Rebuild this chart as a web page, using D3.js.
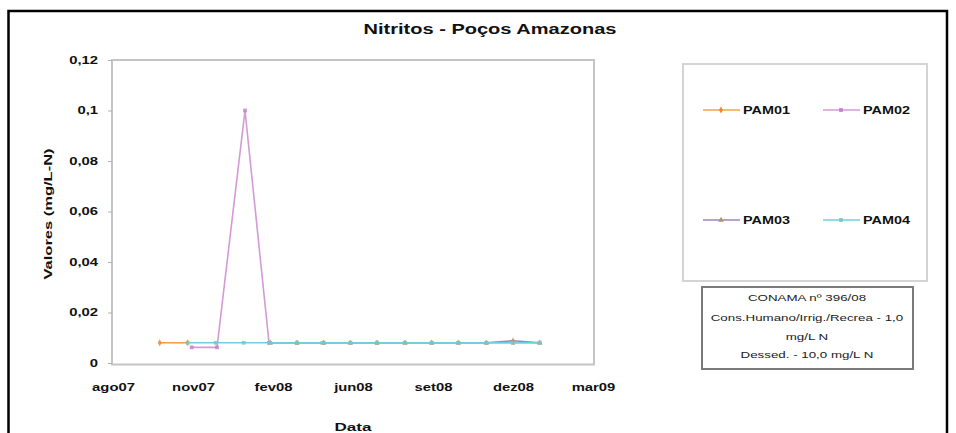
<!DOCTYPE html>
<html>
<head>
<meta charset="utf-8">
<script src="https://cdn.jsdelivr.net/npm/d3@7"></script>
<style>
  html, body { margin: 0; padding: 0; background: #fff; }
  svg { display: block; font-family: "Liberation Sans", Arial, sans-serif; }
</style>
</head>
<body>
<div id="chart"></div>
<script>
// ---- data (x in months since the "ago07" tick; 3 months per tick interval) ----
const chartTitle = "Nitritos - Poços Amazonas";
const xTickValues = [0, 3, 6, 9, 12, 15, 18];
const xTickLabels = ["ago07", "nov07", "fev08", "jun08", "set08", "dez08", "mar09"];
const yTickValues = [0, 0.02, 0.04, 0.06, 0.08, 0.1, 0.12];
const yTickLabels = ["0", "0,02", "0,04", "0,06", "0,08", "0,1", "0,12"];
const seriesNames = ["PAM01", "PAM02", "PAM03", "PAM04"];

const pam01X = [1.75, 2.8];
const pam01Y = [0.008, 0.008];

const pam02X = [2.95, 3.9, 4.95, 5.85, 6.9, 7.9, 8.9, 9.9, 10.95, 11.95, 12.95, 14, 15, 16];
const pam02Y = [0.0062, 0.0062, 0.1, 0.008, 0.008, 0.008, 0.008, 0.008, 0.008, 0.008, 0.008, 0.008, 0.008, 0.008];

const pam03X = [5.9, 6.9, 7.9, 8.9, 9.9, 10.95, 11.95, 12.95, 14, 15, 16];
const pam03Y = [0.008, 0.008, 0.008, 0.008, 0.008, 0.008, 0.008, 0.008, 0.008, 0.0088, 0.008];

const pam04X = [2.8, 3.85, 4.9, 5.9, 6.9, 7.85, 8.9, 9.9, 10.95, 11.95, 12.95, 14, 15, 16];
const pam04Y = [0.008, 0.008, 0.008, 0.008, 0.008, 0.008, 0.008, 0.008, 0.008, 0.008, 0.008, 0.008, 0.008, 0.008];

const noteLines = ["CONAMA nº 396/08", "Cons.Humano/Irrig./Recrea - 1,0", "mg/L N", "Dessed. - 10,0 mg/L N"];

// ---- styles ----
const colors = ["#f2a444", "#d49ad8", "#a283bd", "#6fcfe0"];
const markerColors = ["#f08a2c", "#c77fcf", "#b29070", "#7cc8b4"];
const symbols = [d3.symbolDiamond, d3.symbolSquare, d3.symbolTriangle, d3.symbolSquare];

const W = 956, H = 433;
const svg = d3.select("#chart").append("svg").attr("width", W).attr("height", H);

function stretch(sel, k) {
  sel.each(function () {
    const w = this.getComputedTextLength();
    if (w > 0) {
      this.setAttribute("textLength", w * k);
      this.setAttribute("lengthAdjust", "spacingAndGlyphs");
    }
  });
}

// outer frame
svg.append("rect").attr("x", 8.5).attr("y", 11).attr("width", 938.5).attr("height", 440)
  .attr("fill", "#fff").attr("stroke", "#000").attr("stroke-width", 2.5);

// scales
const x = d3.scaleLinear().domain([0, 18]).range([113, 593]);
const y = d3.scaleLinear().domain([0, 0.12]).range([363, 60]);

// plot area frame
svg.append("rect").attr("x", x(0) - 1).attr("y", y(0.12)).attr("width", x(18) - x(0) + 2).attr("height", y(0) - y(0.12) + 1.5)
  .attr("fill", "#fff").attr("stroke", "#c4c4c4").attr("stroke-width", 2);

// title
svg.append("text").attr("x", 490).attr("y", 34).attr("text-anchor", "middle")
  .attr("font-size", 14).attr("font-weight", "bold").attr("fill", "#111")
  .text(chartTitle).call(stretch, 1.43);

// y axis
const yAxis = d3.axisLeft(y).tickValues(yTickValues).tickSize(4).tickPadding(10)
  .tickFormat((d, i) => yTickLabels[i]);
const gy = svg.append("g").attr("transform", `translate(${x(0) - 1},0)`).call(yAxis);
gy.select(".domain").remove();
gy.selectAll(".tick line").attr("stroke", "#b0b0b0");
gy.selectAll(".tick text").attr("font-size", 10).attr("font-weight", "bold").attr("fill", "#111")
  .attr("font-family", "Liberation Sans, Arial, sans-serif").call(stretch, 1.48);

// x axis
const xAxis = d3.axisBottom(x).tickValues(xTickValues).tickSize(0).tickPadding(21)
  .tickFormat((d, i) => xTickLabels[i]);
const gx = svg.append("g").attr("transform", `translate(0,${y(0)})`).call(xAxis);
gx.select(".domain").remove();
gx.selectAll(".tick text").attr("font-size", 10).attr("font-weight", "bold").attr("fill", "#111")
  .attr("font-family", "Liberation Sans, Arial, sans-serif").call(stretch, 1.48);

// axis titles
svg.append("text").attr("transform", "translate(52,214) rotate(-90)").attr("text-anchor", "middle")
  .attr("font-size", 11).attr("font-weight", "bold").attr("fill", "#111")
  .text("Valores (mg/L-N)").call(stretch, 1.5);
svg.append("text").attr("x", 353).attr("y", 431).attr("text-anchor", "middle")
  .attr("font-size", 11).attr("font-weight", "bold").attr("fill", "#111")
  .text("Data").call(stretch, 1.55);

// series
const seriesX = [pam01X, pam02X, pam03X, pam04X];
const seriesY = [pam01Y, pam02Y, pam03Y, pam04Y];
const line = d3.line().x(d => x(d[0])).y(d => y(d[1]));
const gs = svg.append("g");
seriesX.forEach((xs, s) => {
  const pts = xs.map((v, i) => [v, seriesY[s][i]]);
  gs.append("path").datum(pts).attr("d", line).attr("fill", "none")
    .attr("stroke", colors[s]).attr("stroke-width", 1.6);
  gs.selectAll(null).data(pts).enter().append("path")
    .attr("d", d3.symbol().type(symbols[s]).size(14))
    .attr("transform", d => `translate(${x(d[0])},${y(d[1])})`)
    .attr("fill", markerColors[s]).attr("opacity", 0.85);
});

// legend
svg.append("rect").attr("x", 683).attr("y", 64).attr("width", 244).attr("height", 217)
  .attr("fill", "#fff").attr("stroke", "#d4d4d4").attr("stroke-width", 2);
const legPos = [[703, 110], [823, 110], [703, 220], [823, 220]];
seriesNames.forEach((name, s) => {
  const [lx, ly] = legPos[s];
  svg.append("line").attr("x1", lx).attr("x2", lx + 37).attr("y1", ly).attr("y2", ly)
    .attr("stroke", colors[s]).attr("stroke-width", 1.6);
  svg.append("path").attr("d", d3.symbol().type(symbols[s]).size(14))
    .attr("transform", `translate(${lx + 18},${ly})`).attr("fill", markerColors[s]);
  svg.append("text").attr("x", lx + 40).attr("y", ly + 3.5)
    .attr("font-size", 10).attr("font-weight", "bold").attr("fill", "#111")
    .text(name).call(stretch, 1.44);
});

// note box
svg.append("rect").attr("x", 702).attr("y", 287).attr("width", 211).attr("height", 82)
  .attr("fill", "#fff").attr("stroke", "#7a7a7a").attr("stroke-width", 2);
const noteY = [301, 321, 340, 358];
noteLines.forEach((t, i) => {
  svg.append("text").attr("x", 807).attr("y", noteY[i]).attr("text-anchor", "middle")
    .attr("font-size", 9).attr("fill", "#222").text(t).call(stretch, 1.48);
});
</script>
</body>
</html>
